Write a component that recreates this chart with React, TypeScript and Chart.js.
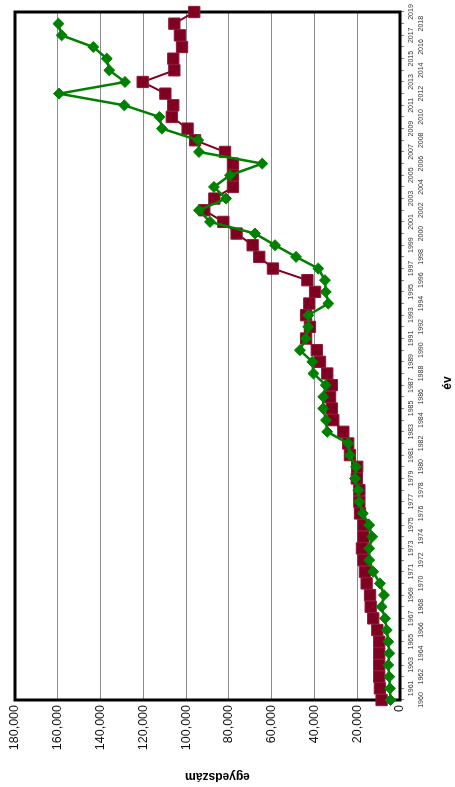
import React, { useEffect, useRef } from 'react';
import { Chart, registerables } from 'chart.js';

Chart.register(...registerables);

// Categories (years)
const years: string[] = [
  '1960', '1961', '1962', '1963', '1964', '1965', '1966', '1967', '1968', '1969',
  '1970', '1971', '1972', '1973', '1974', '1975', '1976', '1977', '1978', '1979',
  '1980', '1981', '1982', '1983', '1984', '1985', '1986', '1987', '1988', '1989',
  '1990', '1991', '1992', '1993', '1994', '1995', '1996', '1997', '1998', '1999',
  '2000', '2001', '2002', '2003', '2004', '2005', '2006', '2007', '2008', '2009',
  '2010', '2011', '2012', '2013', '2014', '2015', '2016', '2017', '2018', '2019',
];

// Maroon squares series
const seriesMaroon: (number | null)[] = [
  8600, 9400, 9700, 9700, 9700, 9700, 10600, 12500, 13700, 14000,
  15600, 16400, 17100, 17800, 17100, 17100, 18700, 19000, 19000, 20200,
  20000, 23400, 24200, 26500, 31200, 31900, 32700, 31900, 34000, 37400,
  38900, 43900, 42100, 43900, 42400, 39700, 43300, 59400, 65800, 68900,
  76400, 82600, 91500, 86800, 78100, 78100, 78100, 81800, 95800, 99300,
  106700, 106000, 109700, 120300, 105500, 106000, 101900, 102900, 105500, 96200,
];

// Green diamonds series
const seriesGreen: (number | null)[] = [
  4400, 4700, 5000, 5500, 5000, 5500, 6200, 7000, 8600, 7500,
  9400, 12500, 14400, 14400, 13000, 14400, 17400, 19000, 19500, 21000,
  20600, 23400, 24200, 34000, 34600, 35900, 35900, 34700, 40500, 41000,
  46800, 44000, 42900, 42900, 33500, 34700, 35100, 38200, 48600, 58400,
  67800, 88800, 94000, 81300, 87000, 79500, 64400, 94000, 94300, 111300,
  112500, 128900, 159400, 128600, 135900, 137100, 143400, 158200, 159700, null,
];

// Value axis
const valueMin = 0;
const valueMax = 180000;
const valueStep = 20000;

const xTitle = 'év';
const yTitle = 'egyedszám';

const FONT = '"Liberation Sans", Arial, sans-serif';

const framePlugin = {
  id: 'frame',
  beforeDatasetsDraw(chart: any) {
    const { ctx, chartArea } = chart;
    const { left, top, right, bottom } = chartArea;
    ctx.save();
    ctx.strokeStyle = '#000';
    ctx.lineWidth = 3;
    ctx.strokeRect(left, top, right - left, bottom - top);
    ctx.restore();
  },
};

const titlesPlugin = {
  id: 'axisTitles',
  afterDraw(chart: any) {
    const { ctx, chartArea } = chart;
    const { left, top, right, bottom } = chartArea;
    ctx.save();
    ctx.fillStyle = '#000';
    ctx.font = `bold 12px ${FONT}`;
    ctx.textAlign = 'center';
    ctx.textBaseline = 'middle';
    ctx.fillText(xTitle, (left + right) / 2 - 27, 448);
    ctx.translate(11, (top + bottom) / 2 + 10);
    ctx.rotate(-Math.PI / 2);
    ctx.fillText(yTitle, 0, 0);
    ctx.restore();
  },
};

export default function App() {
  const canvasRef = useRef<HTMLCanvasElement | null>(null);

  useEffect(() => {
    if (!canvasRef.current) return;
    const chart = new Chart(canvasRef.current, {
      type: 'line',
      data: {
        labels: years,
        datasets: [
          {
            label: 'maroon',
            data: seriesMaroon,
            borderColor: '#800022',
            backgroundColor: '#800022',
            borderWidth: 2,
            pointStyle: 'rect',
            pointRadius: 8,
            pointBorderWidth: 1,
            pointBorderColor: '#8a1a38',
            pointBackgroundColor: '#800022',
            clip: false,
            order: 2,
            tension: 0,
          },
          {
            label: 'green',
            data: seriesGreen,
            borderColor: '#008000',
            backgroundColor: '#008000',
            borderWidth: 2.5,
            pointStyle: 'rectRot',
            pointRadius: 5.5,
            pointBorderWidth: 1,
            pointBorderColor: '#008000',
            pointBackgroundColor: '#008000',
            clip: false,
            order: 1,
            tension: 0,
          },
        ],
      },
      options: {
        responsive: false,
        animation: false,
        devicePixelRatio: 1,
        layout: { padding: { top: 15, right: 12, left: 0, bottom: 0 } },
        plugins: {
          legend: { display: false },
          tooltip: { enabled: false },
        },
        scales: {
          x: {
            type: 'category',
            offset: false,
            border: { display: false },
            grid: {
              drawOnChartArea: false,
              drawTicks: true,
              tickLength: 4,
              color: '#888',
            },
            ticks: {
              autoSkip: false,
              maxRotation: 0,
              minRotation: 0,
              padding: 2,
              color: '#333',
              font: { family: FONT, size: 7, lineHeight: 1.4 },
              callback: function (_v: any, index: number) {
                const y = years[index];
                return Number(y) % 2 === 0 ? ['', y] : y;
              },
            },
            afterFit(scale: any) {
              scale.height = 55;
            },
          },
          y: {
            min: valueMin,
            max: valueMax,
            border: { display: false },
            grid: {
              drawTicks: false,
              color: '#8c8c8c',
              lineWidth: 1,
            },
            ticks: {
              stepSize: valueStep,
              padding: 5,
              color: '#111',
              font: { family: FONT, size: 12.5 },
              callback: (v: any) => Number(v).toLocaleString('en-US'),
            },
            afterFit(scale: any) {
              scale.width = 87;
            },
          },
        },
      },
      plugins: [framePlugin, titlesPlugin],
    });
    return () => chart.destroy();
  }, []);

  return (
    <div
      style={{
        position: 'fixed',
        left: 0,
        top: 0,
        width: 787,
        height: 455,
        transformOrigin: '0 0',
        transform: 'translateY(787px) rotate(-90deg)',
        background: '#fff',
      }}
    >
      <canvas ref={canvasRef} width={787} height={455} style={{ display: 'block' }} />
    </div>
  );
}
